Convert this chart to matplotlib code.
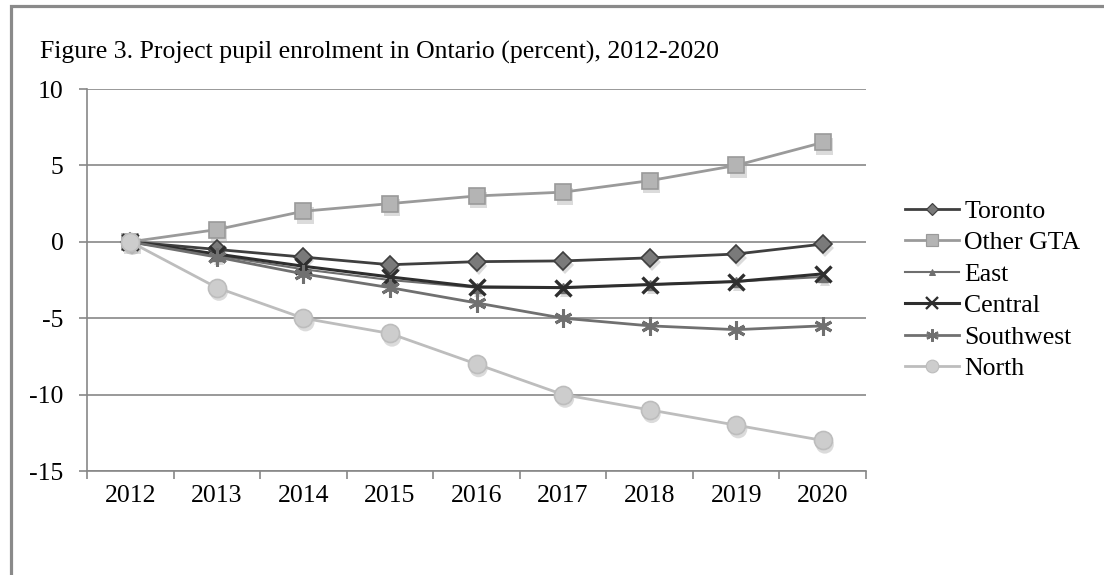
import matplotlib
matplotlib.use("Agg")
import matplotlib.pyplot as plt
import matplotlib.patheffects as pe
from matplotlib.patches import Rectangle
from matplotlib.lines import Line2D

years = [2012, 2013, 2014, 2015, 2016, 2017, 2018, 2019, 2020]
toronto = [0, -0.5, -1.0, -1.5, -1.3, -1.25, -1.05, -0.8, -0.15]
other_gta = [0, 0.8, 2.0, 2.5, 3.0, 3.25, 4.0, 5.0, 6.5]
east = [0, -0.9, -1.8, -2.5, -3.0, -3.0, -2.8, -2.6, -2.3]
central = [0, -0.8, -1.6, -2.3, -2.95, -3.0, -2.8, -2.6, -2.1]
southwest = [0, -1.0, -2.1, -3.0, -4.0, -5.0, -5.5, -5.75, -5.5]
north = [0, -3.0, -5.0, -6.0, -8.0, -10.0, -11.0, -12.0, -13.0]

title = "Figure 3. Project pupil enrolment in Ontario (percent), 2012-2020"
y_ticks = [10, 5, 0, -5, -10, -15]

plt.rcParams['font.family'] = ['Liberation Serif', 'DejaVu Serif']

W, H = 1104, 575
fig = plt.figure(figsize=(W / 100, H / 100), dpi=100)
ax = fig.add_axes([87 / W, 1 - 471 / H, (866 - 87) / W, (471 - 89) / H])

grid_col = '#878787'
ASTER = (6, 2, 0)
series = [
    ("Toronto", toronto, dict(color='#3f3f3f', lw=2.0, marker='D', ms=9,
                              mfc='#7a7a7a', mec='#3f3f3f', mew=1.2)),
    ("Other GTA", other_gta, dict(color='#9a9a9a', lw=2.0, marker='s', ms=12,
                                  mfc='#b4b4b4', mec='#9a9a9a', mew=1.2)),
    ("East", east, dict(color='#6e6e6e', lw=1.5, marker='^', ms=7,
                        mfc='#6e6e6e', mec='#6e6e6e', mew=1)),
    ("Central", central, dict(color='#2e2e2e', lw=2.2, marker='x', ms=12,
                              mfc='#2e2e2e', mec='#2e2e2e', mew=2.4)),
    ("Southwest", southwest, dict(color='#707070', lw=2.0, marker=ASTER, ms=13,
                                  mfc='#707070', mec='#707070', mew=2.2)),
    ("North", north, dict(color='#bdbdbd', lw=2.0, marker='o', ms=13,
                          mfc='#cdcdcd', mec='#bdbdbd', mew=1.2)),
]

handles = []
for i, (name, vals, st) in enumerate(series):
    # soft drop shadow under the markers
    ax.plot(years, vals, linestyle='none', marker=st['marker'], ms=st['ms'],
            mfc=st['mfc'], mec=st['mec'], mew=st['mew'], zorder=2 + i * 0.1,
            path_effects=[pe.SimplePatchShadow(offset=(1.5, -3), shadow_rgbFace='#999999', alpha=0.35)])
    ax.plot(years, vals, label=name, zorder=3 + i * 0.1, **st)
    handles.append(Line2D([], [], color=st['color'], lw=st['lw'], marker=st['marker'],
                          ms=st['ms'] * 0.7, mfc=st['mfc'], mec=st['mec'],
                          mew=st['mew'] * 0.7))

ax.set_xlim(2011.5, 2020.5)
ax.set_ylim(-15, 10)
ax.set_yticks(y_ticks)
ax.set_yticklabels([str(v) for v in y_ticks])
ax.set_xticks(years)
ax.set_xticklabels([str(y) for y in years])
ax.set_xticks([y + 0.5 for y in [2011] + years], minor=True)
ax.yaxis.grid(True, color=grid_col, lw=1.2)
ax.set_axisbelow(True)

for s in ['top', 'right']:
    ax.spines[s].set_visible(False)
for s in ['left', 'bottom']:
    ax.spines[s].set_color(grid_col)
    ax.spines[s].set_linewidth(1.2)

FS = 18.5
ax.tick_params(axis='y', which='major', direction='out', length=6, width=1.2,
               color=grid_col, labelsize=FS, pad=11)
ax.tick_params(axis='x', which='major', length=0, labelsize=FS, pad=10)
ax.tick_params(axis='x', which='minor', direction='out', length=6, width=1.2,
               color=grid_col)

fig.text(40 / W, 1 - 58.5 / H, title, fontsize=18.5, va='baseline', ha='left')

fig.legend(handles=handles, labels=[s[0] for s in series],
           loc='center left', bbox_to_anchor=(905 / W, 1 - 290 / H),
           frameon=False, fontsize=FS, handlelength=2.1, handletextpad=0.2,
           labelspacing=0.33, borderpad=0, borderaxespad=0)

# outer chart border
fig.patches.append(Rectangle((11 / W, -0.2), 1.2, 1.2 - 6 / H,
                             transform=fig.transFigure, fill=False,
                             edgecolor='#8a8a8a', lw=2.3, zorder=10))

fig.savefig('out.png', dpi=100)
